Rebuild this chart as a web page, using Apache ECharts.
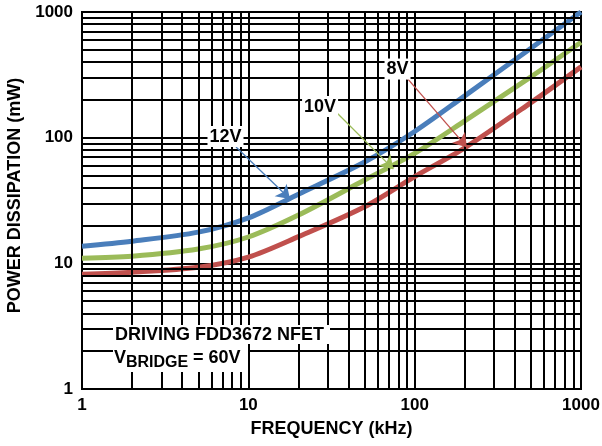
<!DOCTYPE html>
<html>
<head>
<meta charset="utf-8">
<script src="https://cdn.jsdelivr.net/npm/echarts@6/dist/echarts.min.js"></script>
<style>html,body{margin:0;padding:0;background:#fff;}#c{width:602px;height:446px;}</style>
</head>
<body>
<div id="c"></div>
<script>
// Frequency (kHz)
var freq = [1, 2, 5, 10, 20, 50, 100, 200, 500, 1000];
// Power dissipation (mW)
var p12V = [13.7, 15, 17.7, 23, 35.5, 64, 112, 215, 515, 1000];
var p10V = [11, 11.4, 13, 16.2, 24.2, 46, 75, 136, 305, 575];
var p8V  = [8.2, 8.5, 9.3, 11.2, 16.3, 28.2, 49, 83, 190, 366];
// Minor grid values
var xMinor = [2,3,4,5,6,7,8,9,20,30,40,50,60,70,80,90,200,300,400,500,600,700,800,900];
var yMinor = [2,3,4,5,6,7,8,9,20,30,40,50,60,70,80,90,200,300,400,500,600,700,800,900];
var seriesNames = ['12V', '10V', '8V'];
// Annotation anchors (data space): label center, arrow start, arrow end
var ann12 = {label:[7.29,102], from:[8.43,84.2], to:[17.8,32.5]};
var ann10 = {label:[27.0,176.7], from:[33.2,163], to:[74.5,56.2]};
var ann8  = {label:[78.9,351.6], from:[90,298], to:[206,84]};

var FONT = "'Liberation Sans', Arial, sans-serif";
var colors = ['#4a7ebb', '#9bbb59', '#c0504d'];

function pairs(vals){ return freq.map(function(f,i){ return [f, vals[i]]; }); }

function curve(name, vals, color, ann){
  return {
    name: name, type: 'line', data: pairs(vals), smooth: 0.3,
    showSymbol: false, symbol: 'none', z: 3,
    itemStyle: {color: color},
    lineStyle: {color: color, width: 5},
    markLine: {
      silent: true, symbol: ['none', 'arrow'], symbolSize: 13,
      itemStyle: {color: color},
      lineStyle: {color: color, width: 1.3, type: 'solid', opacity: 1},
      label: {show: false},
      data: [[{coord: ann.from}, {coord: ann.to}]]
    },
    markPoint: {
      silent: true, symbol: 'rect', symbolSize: 1,
      itemStyle: {color: 'rgba(0,0,0,0)'},
      label: {show: true, position: 'inside', formatter: name, color: '#000',
        fontFamily: FONT, fontWeight: 'bold', fontSize: 18,
        backgroundColor: '#fff', padding: [2, 2, 1, 2]},
      data: [{coord: ann.label}]
    }
  };
}

var gridLines = [];
xMinor.forEach(function(v){ gridLines.push({xAxis: v}); });
yMinor.forEach(function(v){ gridLines.push({yAxis: v}); });

function plain(v){ return String(Math.round(v)); }

var chart = echarts.init(document.getElementById('c'), null, {renderer: 'canvas'});
chart.setOption({
  animation: false,
  backgroundColor: '#fff',
  grid: {left: 82, top: 12, width: 499, height: 377, outerBoundsMode: 'none', containLabel: false,
    show: true, borderColor: '#000', borderWidth: 2, backgroundColor: 'transparent'},
  xAxis: {
    type: 'log', logBase: 10, min: 1, max: 1000, splitNumber: 3,
    name: 'FREQUENCY (kHz)', nameLocation: 'middle', nameGap: 31,
    nameTextStyle: {color: '#000', fontFamily: FONT, fontWeight: 'bold', fontSize: 18},
    axisLine: {show: true, lineStyle: {color: '#000', width: 2}},
    axisTick: {show: false},
    axisLabel: {color: '#000', fontFamily: FONT, fontWeight: 'bold', fontSize: 17, margin: 8, formatter: plain},
    splitLine: {show: true, lineStyle: {color: '#000', width: 2}}
  },
  yAxis: {
    type: 'log', logBase: 10, min: 1, max: 1000, splitNumber: 3,
    name: 'POWER DISSIPATION (mW)', nameLocation: 'middle', nameGap: 48,
    nameTextStyle: {color: '#000', fontFamily: FONT, fontWeight: 'bold', fontSize: 18, padding: [0, 0, 0, 10]},
    axisLine: {show: true, lineStyle: {color: '#000', width: 2}},
    axisTick: {show: false},
    axisLabel: {color: '#000', fontFamily: FONT, fontWeight: 'bold', fontSize: 17, margin: 9, formatter: plain},
    splitLine: {show: true, lineStyle: {color: '#000', width: 2}}
  },
  series: [
    {
      type: 'line', data: [], z: 1, silent: true,
      markLine: {
        silent: true, symbol: ['none', 'none'], animation: false,
        label: {show: false},
        lineStyle: {color: '#000', width: 2, type: 'solid'},
        emphasis: {disabled: true},
        data: gridLines
      }
    },
    curve(seriesNames[0], p12V, colors[0], ann12),
    curve(seriesNames[1], p10V, colors[1], ann10),
    curve(seriesNames[2], p8V, colors[2], ann8)
  ],
  graphic: [
    {type: 'rect', z: 10, shape: {x: 113, y: 325, width: 217, height: 19}, style: {fill: '#fff'}},
    {type: 'rect', z: 10, shape: {x: 113, y: 344, width: 135, height: 28}, style: {fill: '#fff'}},
    {type: 'text', z: 11, x: 115, y: 335, style: {text: 'DRIVING FDD3672 NFET', fill: '#000', font: 'bold 18px ' + FONT, verticalAlign: 'middle'}},
    {type: 'text', z: 11, x: 114, y: 358, style: {text: 'V', fill: '#000', font: 'bold 18px ' + FONT, verticalAlign: 'middle'}},
    {type: 'text', z: 11, x: 126, y: 363, style: {text: 'BRIDGE', fill: '#000', font: 'bold 16px ' + FONT, verticalAlign: 'middle'}},
    {type: 'text', z: 11, x: 193, y: 358, style: {text: '= 60V', fill: '#000', font: 'bold 18px ' + FONT, verticalAlign: 'middle'}}
  ]
});
</script>
</body>
</html>
